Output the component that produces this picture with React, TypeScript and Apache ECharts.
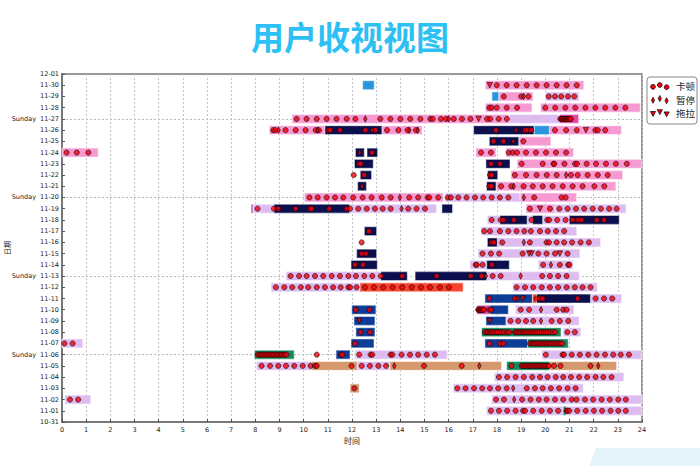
import React, { useEffect, useRef } from 'react';
import * as echarts from 'echarts';

const dates = ['10-31','11-01','11-02','11-03','11-04','11-05','11-06','11-07','11-08','11-09','11-10','11-11','11-12','11-13','11-14','11-15','11-16','11-17','11-18','11-19','11-20','11-21','11-22','11-23','11-24','11-25','11-26','11-27','11-28','11-29','11-30','12-01'];
const sundays = ['11-06','11-13','11-20','11-27'];

type Bar = [string, number, number];
const pinkBars: Bar[] = [
  ['11-30',17.52,21.59],['11-29',18.07,19.49],['11-28',17.52,19.45],['11-28',19.8,23.93],
  ['11-27',9.52,18.5],['11-26',8.58,10.88],['11-26',13.24,14.9],['11-26',20.17,23.15],
  ['11-25',18.9,20.23],['11-24',0.0,1.5],['11-24',17.13,17.96],['11-24',18.37,21.17],
  ['11-23',18.83,23.99],['11-22',18.58,23.2],['11-21',17.96,22.92],
  ['11-20',10.03,15.78],['11-20',18.95,21.29],['11-19',19.2,20.4],
];
const violetBars: Bar[] = [
  ['11-29',20.0,21.4],['11-27',18.5,20.6],['11-20',15.85,18.95],
  ['11-19',7.87,8.77],['11-19',11.9,15.5],['11-19',20.4,23.34],
  ['11-18',17.6,18.12],['11-18',19.25,19.47],['11-18',19.89,20.99],
  ['11-17',17.34,21.3],['11-16',18.01,22.29],['11-15',17.22,21.43],
  ['11-14',16.88,17.57],['11-14',19.71,21.15],
  ['11-13',9.27,13.19],['11-13',17.57,21.4],
  ['11-12',8.65,12.33],['11-12',18.65,22.15],
  ['11-11',21.87,23.16],['11-10',18.77,21.18],['11-09',18.37,21.4],['11-08',20.74,21.47],
  ['11-07',0.0,0.86],['11-06',12.12,15.94],['11-06',19.85,24.0],
  ['11-05',8.05,10.33],['11-05',12.22,13.57],['11-04',17.89,23.25],['11-03',16.19,21.57],
  ['11-02',0.12,1.19],['11-02',17.78,24.0],['11-01',17.57,24.0],
];
const navyBars: Bar[] = [
  ['11-26',10.88,13.24],['11-26',17.03,19.54],['11-25',17.68,18.9],
  ['11-24',12.14,12.51],['11-24',12.62,13.06],['11-23',12.1,12.88],['11-23',17.54,18.54],
  ['11-22',12.34,12.81],['11-22',17.61,18.03],['11-21',12.23,12.6],['11-21',17.57,17.96],
  ['11-19',8.77,11.9],['11-19',15.72,16.16],
  ['11-18',18.12,19.25],['11-18',19.47,19.89],['11-18',20.99,23.06],
  ['11-17',12.51,13.02],['11-16',17.6,18.01],['11-15',12.19,13.02],
  ['11-14',11.96,13.05],['11-14',17.57,18.51],['11-13',13.19,14.29],['11-13',14.61,17.57],
  ['11-11',19.64,21.87],
];
const blueBars: Bar[] = [
  ['11-11',17.5,19.47],['11-10',11.99,12.99],['11-10',17.57,18.47],
  ['11-09',12.08,12.95],['11-09',17.54,18.37],['11-08',12.16,12.95],
  ['11-07',11.96,12.91],['11-07',17.5,19.27],['11-06',11.34,11.92],
];
const skyBars: Bar[] = [['11-30',12.44,12.92],['11-29',17.79,18.07],['11-26',19.54,20.17]];
const greenBars: Bar[] = [['11-08',17.36,20.65],['11-07',19.27,20.95],['11-06',7.96,9.61],['11-05',18.4,20.19],['11-01',20.74,20.86]];
const orangeBars: Bar[] = [['11-05',10.33,12.22],['11-05',13.57,18.19],['11-05',20.19,22.95],['11-03',11.92,12.3]];
const redBars: Bar[] = [['11-12',12.33,16.6],['11-11',19.47,19.63]];
const magentaBars: Bar[] = [['11-27',20.6,21.38],['11-10',17.16,17.71],['11-19',7.82,7.9]];

type Pts = [string, number[]];
const stallTimes: Pts[] = [
  ['11-30',[17.99,18.4,18.81,19.23,19.64,20.05,20.47,20.88,21.3]],
  ['11-29',[18.28,19.0,19.3,20.14,20.4,20.66,20.94,21.2]],
  ['11-28',[17.68,17.78,17.99,18.4,18.83,20.0,20.41,20.83,21.24,21.66,22.07,22.48,22.9,23.31]],
  ['11-27',[9.71,10.12,10.54,10.95,11.36,11.78,12.14,13.17,13.59,14.0,14.41,14.83,15.24,15.34,15.68,15.89,16.21,16.55,16.9,17.59,17.72,18.07,18.41,20.62,20.66,20.7,20.74,20.78,20.82,20.86,20.9,20.94,20.98,21.02,21.06]],
  ['11-26',[8.74,8.83,9.25,9.67,10.08,10.5,10.63,11.03,11.1,11.5,12.55,12.97,13.45,13.92,14.3,14.65,17.96,19.16,19.27,19.41,20.4,20.86,21.3,22.07,22.17,22.48]],
  ['11-25',[17.85,18.26,19.09]],
  ['11-24',[0.19,0.61,1.09,12.83,17.34,17.75,18.48,18.65,18.83,19.2,19.61,20.03,20.44,20.86]],
  ['11-23',[12.29,12.36,17.75,18.12,19.02,19.89,20.34,20.37,20.79,21.23,21.31,21.71,22.1,22.51,22.92,23.37]],
  ['11-22',[12.07,12.5,17.71,17.78,18.74,19.2,19.64,20.06,20.47,21.06,21.34,21.75,22.17,22.58]],
  ['11-21',[17.68,17.78,18.17,18.59,19.1,19.48,19.89,20.3,20.72,21.13,21.54,22.03,22.44]],
  ['11-20',[10.24,10.58,10.95,11.3,11.64,12.05,12.44,12.81,13.23,13.6,14.37,14.74,15.13,15.2,15.57,15.96,16.09,16.4,16.74,17.09,17.43,17.78,18.12,18.47,19.54,20.67,20.84]],
  ['11-19',[8.09,8.77,8.95,9.67,10.26,10.33,11.06,11.78,11.92,12.26,12.61,12.95,13.27,13.6,14.33,14.67,15.02,19.36,20.19,20.58,20.92,21.27,21.61,21.96,22.3,22.64,22.95]],
  ['11-18',[17.78,18.15,18.26,18.7,19.43,20.08,20.16,20.49,20.84,21.13,21.36,21.5,22.12,22.43]],
  ['11-17',[12.7,17.47,17.71,18.12,18.47,18.81,19.13,19.4,19.78,20.1,20.44,20.78]],
  ['11-16',[12.4,17.78,17.88,18.22,19.36,20.05,20.15,20.47,20.78,21.11,21.46,21.8]],
  ['11-15',[12.4,12.58,17.4,17.75,18.09,19.06,19.71,20.05,20.4,20.92]],
  ['11-14',[12.12,12.45,17.12,17.16,17.4,17.79,19.91,20.6,20.95,20.99]],
  ['11-13',[9.46,9.81,10.12,10.47,10.81,11.16,11.5,11.85,12.16,12.51,12.84,13.19,14.08,15.5,16.91,17.36,17.82,18.15,19.87,20.19,20.53,20.88]],
  ['11-12',[8.85,9.2,9.53,9.88,10.19,10.54,10.88,11.22,11.53,11.85,11.92,12.19,12.54,12.91,13.29,13.68,14.08,14.47,14.85,15.23,15.64,16.01,18.81,19.16,19.5,19.85,20.19,20.53,20.88,21.22,21.54,21.87]],
  ['11-11',[17.68,18.74,19.64,19.78,19.89,21.34,22.08,22.43,22.77]],
  ['11-10',[12.16,12.72,17.22,17.26,17.3,17.34,17.38,17.42,17.46,17.68,17.76,18.98,19.33,20.47,20.74,20.88]],
  ['11-09',[18.56,18.88,19.2,19.5,20.26,20.6,20.95]],
  ['11-08',[12.36,12.75,17.5,17.57,17.63,17.7,17.76,17.82,17.9,17.97,18.04,18.12,18.2,18.3,18.42,18.5,18.74,18.8,18.87,18.94,19.0,19.08,19.15,19.22,19.3,19.38,19.46,19.54,19.62,19.7,19.78,19.86,19.94,20.02,20.1,20.2,20.3,20.4,20.91,21.22]],
  ['11-07',[0.1,0.44,12.12,17.7,18.13,18.27,19.36,19.42,19.49,19.55,19.61,19.68,19.74,19.8,19.87,19.93,20.0,20.06,20.12,20.19,20.26,20.33,20.4,20.47,20.55,20.62,20.7]],
  ['11-06',[8.1,8.17,8.24,8.3,8.37,8.44,8.5,8.57,8.63,8.7,8.77,8.84,8.9,8.97,9.04,9.1,9.17,9.23,9.29,10.54,11.55,11.6,12.3,12.77,12.84,13.6,13.67,14.05,14.4,14.74,15.09,15.43,20.02,20.71,20.77,21.09,21.43,21.78,22.12,22.47,22.81,23.12,23.46]],
  ['11-05',[8.26,8.61,8.95,9.27,9.61,9.96,10.29,10.47,10.54,11.98,12.4,12.74,13.09,13.41,14.98,16.54,18.6,19.02,19.08,19.14,19.2,19.27,19.33,19.39,19.46,19.52,19.58,19.65,19.71,19.77,19.84,19.9,19.96,20.03,20.09,20.15,20.36,20.63,21.87]],
  ['11-04',[18.08,18.42,18.77,19.11,19.46,19.78,20.09,20.43,20.74,21.06,21.4,21.73,22.08,22.4,22.74]],
  ['11-03',[12.1,16.36,16.7,17.05,17.39,17.71,18.05,18.4,19.23,19.57,19.89,20.23,20.57,20.92,21.25]],
  ['11-02',[0.33,0.67,17.96,18.29,19.04,19.39,19.73,20.05,20.4,20.74,21.09,21.29,21.64,21.98,22.33,22.67,23.02,23.33]],
  ['11-01',[17.75,18.08,18.42,18.77,19.08,19.16,19.5,19.85,20.19,20.53,20.88,20.92,20.99,21.32,21.67,22.01,22.35,22.7,23.02,23.33]],
];
const pauseTimes: Pts[] = [
  ['11-29',[19.1]],['11-27',[12.55,16.0]],['11-26',[8.96,10.58,12.83,14.37,14.72,18.79]],
  ['11-25',[18.68]],['11-24',[12.32]],['11-22',[20.86]],['11-21',[12.41,18.69]],
  ['11-20',[13.98,19.11]],['11-19',[14.05]],['11-16',[19.11]],['11-14',[20.23]],
  ['11-13',[17.54,18.98]],['11-11',[18.84]],['11-10',[19.82]],['11-09',[19.82]],
  ['11-05',[13.75,17.27,22.19]],['11-03',[18.67]],['11-02',[18.71]],
];
const dragTimes: Pts[] = [
  ['11-30',[17.7]],['11-27',[17.24]],['11-26',[21.68]],['11-19',[19.78]],
  ['11-15',[19.33,19.43,20.6]],['11-11',[19.06]],['11-09',[12.3,17.7]],
];

const legendNames = ['卡顿', '暂停', '拖拉'];

const App: React.FC = () => {
  const ref = useRef<HTMLDivElement>(null);
  useEffect(() => {
    if (!ref.current) return;
    const chart = echarts.init(ref.current, null, { renderer: 'svg' });
    const idx = (d: string) => dates.indexOf(d);
    const barSeries = (name: string, bars: Bar[], color: string) => ({
      type: 'custom',
      name,
      silent: true,
      z: 2,
      encode: { x: [0, 1], y: 2 },
      data: bars.map(([d, s, e]) => [s, e, idx(d)]),
      renderItem: (params: any, api: any) => {
        const a = api.coord([api.value(0), api.value(2)]);
        const b = api.coord([api.value(1), api.value(2)]);
        const h = api.size([0, 1])[1] * 0.8;
        return {
          type: 'rect',
          shape: { x: a[0], y: a[1] - h / 2, width: b[0] - a[0], height: h },
          style: { fill: color, stroke: 'rgba(255,255,255,0.45)', lineWidth: 1.2 },
        };
      },
    });
    const pts = (list: Pts) => list.flatMap(([d, ts]) => ts.map((t) => [t, idx(d)]));
    const markerStyle = { color: '#f2000c', borderColor: '#000', borderWidth: 0.7 };
    const diamond = 'path://M0,-1 L0.55,0 L0,1 L-0.55,0 Z';
    const triDown = 'path://M-1,-0.8 L1,-0.8 L0,1 Z';

    const lx = 653, ly = [86, 99.5, 113];
    const legendGraphics: any[] = [
      { type: 'rect', shape: { x: 647, y: 77, width: 50, height: 47, r: 3 }, style: { fill: '#fff', stroke: '#888', lineWidth: 1 }, z: 10 },
      { type: 'polygon', shape: { points: [[596, 448], [700, 448], [700, 466], [589, 466]] }, style: { fill: '#e5f4fb' }, z: 0 },
    ];
    const offs = [0.8, -1, 1.2];
    ly.forEach((y, row) => {
      [0, 1, 2].forEach((k) => {
        const cx = lx + k * 6.8;
        const cy = y + offs[k];
        if (row === 0) {
          legendGraphics.push({ type: 'circle', shape: { cx, cy, r: 2.4 }, style: { fill: '#f2000c', stroke: '#000', lineWidth: 0.7 }, z: 11 });
        } else if (row === 1) {
          legendGraphics.push({ type: 'polygon', shape: { points: [[cx, cy - 3], [cx + 1.6, cy], [cx, cy + 3], [cx - 1.6, cy]] }, style: { fill: '#f2000c', stroke: '#000', lineWidth: 0.7 }, z: 11 });
        } else {
          legendGraphics.push({ type: 'polygon', shape: { points: [[cx - 2.6, cy - 2.3], [cx + 2.6, cy - 2.3], [cx, cy + 2.6]] }, style: { fill: '#f2000c', stroke: '#000', lineWidth: 0.7 }, z: 11 });
        }
      });
      legendGraphics.push({ type: 'text', x: 676, y, style: { text: legendNames[row], fontSize: 9.5, fill: '#222', verticalAlign: 'middle', fontFamily: 'Noto Sans CJK SC' }, z: 11 });
    });

    chart.setOption({
      animation: false,
      backgroundColor: '#fff',
      title: {
        text: '用户收视视图', left: 'center', top: 14,
        textStyle: { fontSize: 33, fontWeight: 'bold', color: '#2cc0f4', fontFamily: 'Noto Sans CJK SC' },
      },
      grid: { left: 62, right: 58, top: 74, bottom: 44, show: true, borderColor: '#777', borderWidth: 1.5, containLabel: false, outerBoundsMode: 'none' },
      xAxis: {
        type: 'value', min: 0, max: 24, interval: 1,
        name: '时间', nameLocation: 'middle', nameGap: 14, nameMoveOverlap: false,
        nameTextStyle: { fontSize: 8, color: '#222', fontFamily: 'Noto Sans CJK SC' },
        axisLine: { show: true, lineStyle: { color: '#777', width: 2 } },
        axisTick: { show: true, inside: true, length: 3, lineStyle: { color: '#555' } },
        axisLabel: { fontSize: 6.5, color: '#222', margin: 4, fontFamily: 'DejaVu Sans' },
        splitLine: { show: true, lineStyle: { color: '#c4c4c4', type: [2, 2], width: 1 } },
      },
      yAxis: {
        type: 'category', data: dates, boundaryGap: false,
        name: '日期', nameLocation: 'middle', nameGap: 52, nameMoveOverlap: false,
        nameTextStyle: { fontSize: 7, color: '#222', fontFamily: 'Noto Sans CJK SC' },
        axisLine: { show: true, lineStyle: { color: '#777', width: 2 } },
        axisTick: { show: true, inside: true, length: 3, interval: 0, lineStyle: { color: '#555' } },
        axisLabel: {
          interval: 0, fontSize: 6.5, color: '#222', margin: 3, fontFamily: 'DejaVu Sans',
          formatter: (v: string) => (sundays.includes(v) ? 'Sunday  ' + v : v),
        },
        splitLine: {
          show: true, interval: (i: number, v: string) => sundays.includes(v),
          lineStyle: { color: '#b8b8b8', type: [2, 2], width: 1 },
        },
      },
      series: [
        barSeries('pink', pinkBars, '#f79ad2'),
        barSeries('violet', violetBars, '#dfbcf0'),
        barSeries('navy', navyBars, '#0b0f4e'),
        barSeries('blue', blueBars, '#0e3d97'),
        barSeries('sky', skyBars, '#2a95de'),
        barSeries('green', greenBars, '#168a5d'),
        barSeries('orange', orangeBars, '#d6996d'),
        barSeries('red', redBars, '#f5462d'),
        barSeries('magenta', magentaBars, '#e04aa6'),
        { type: 'scatter', name: '卡顿', z: 5, symbol: 'circle', symbolSize: 5.2, itemStyle: markerStyle, data: pts(stallTimes) },
        { type: 'scatter', name: '暂停', z: 5, symbol: diamond, symbolSize: [3.5, 6.5], itemStyle: markerStyle, data: pts(pauseTimes) },
        { type: 'scatter', name: '拖拉', z: 5, symbol: triDown, symbolSize: [5.5, 5.5], itemStyle: markerStyle, data: pts(dragTimes) },
      ],
      graphic: legendGraphics,
    });
    return () => chart.dispose();
  }, []);
  return <div ref={ref} style={{ width: 700, height: 466, position: 'absolute', left: 0, top: 0 }} />;
};

export default App;
